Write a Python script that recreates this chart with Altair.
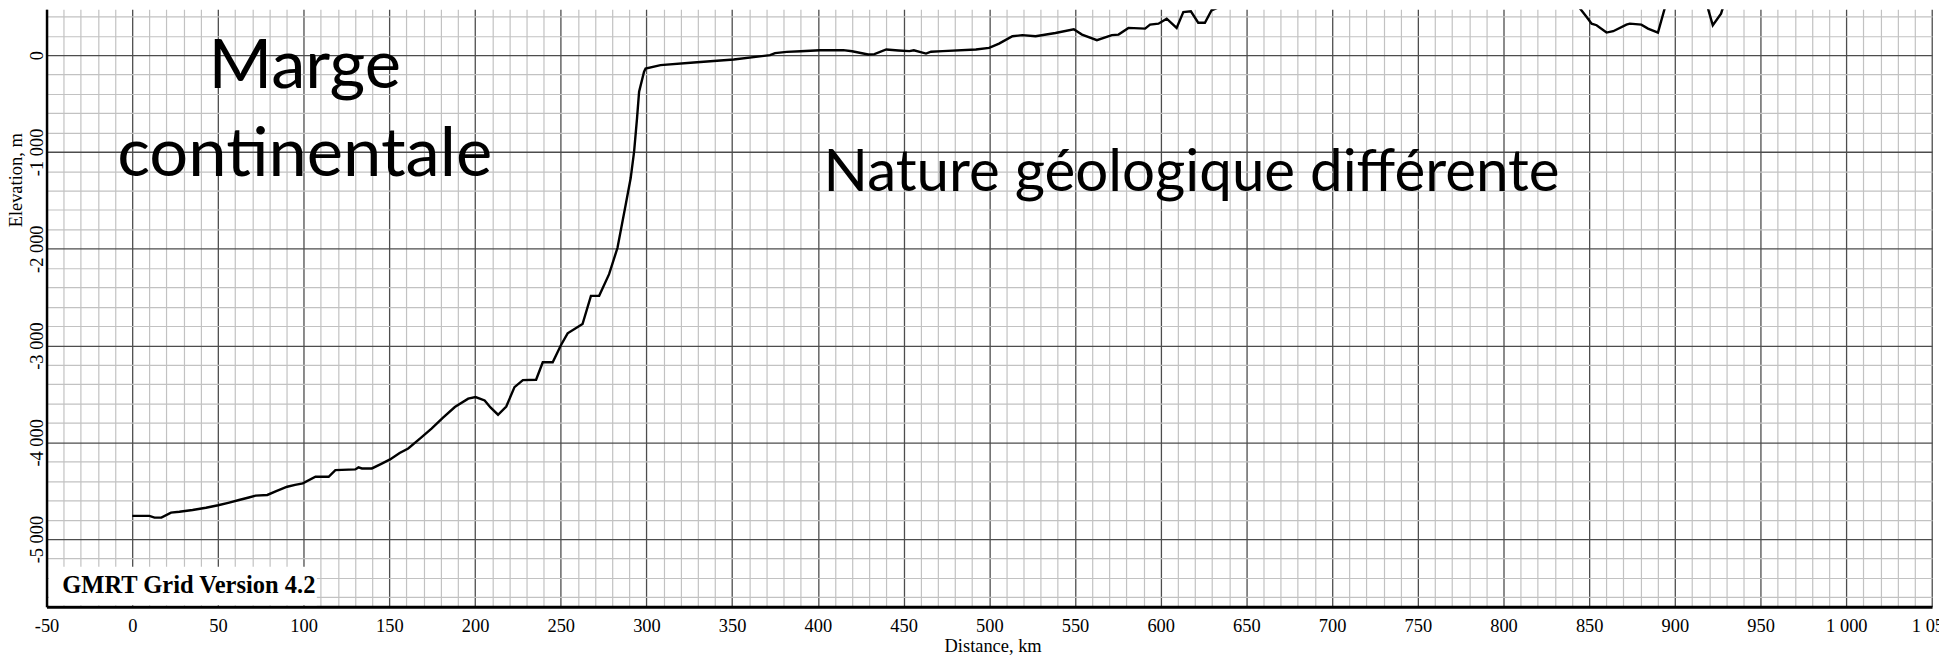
import altair as alt
import pandas as pd

# ---- profile data (distance km, elevation m) ----
distance_km = [0, 10, 13, 17, 22.6, 27.5, 35.2, 43, 50.1, 56, 62.3, 68, 72, 78.8, 84, 90.4, 95, 99.5,
               106.9, 114.6, 118.5, 130.1, 132, 134, 139.8, 145, 150.4, 156, 161, 168, 174.6, 181,
               188.2, 196, 200.3, 205.6, 209, 213.4, 218.2, 223, 227.9, 235.6, 239.5, 245.3, 250,
               254, 262.7, 267.6, 272.4, 278.2, 283.1, 287.9, 290.8, 292.8, 294.5, 295.7, 298.6,
               299.5, 308.2, 327.6, 350.9, 372.1, 375, 381.8, 390, 401.2, 414.8, 420, 429.3, 433,
               439.9, 447, 453.4, 456, 463.1, 466, 472.8, 492.2, 499.9, 505.7, 513.5, 519.3, 527,
               538.6, 549.3, 554.1, 562.8, 571.5, 575.4, 581.2, 590.9, 593.8, 598.7, 603.5, 609.3,
               613.2, 617.6, 621.9, 625.8, 629.7, 635.5, 641.3, 648, 655, 670, 700, 750, 800, 830,
               841.7, 848.5, 851.4, 854.3, 860.1, 864, 871.7, 873.7, 880.4, 884.3, 890.1, 894, 897,
               905, 915, 918.2, 922.1, 926.9, 930, 945, 980, 1020, 1050]
elevation_m = [-4760, -4760, -4778, -4778, -4726, -4718, -4699, -4676, -4650, -4625, -4596, -4570,
               -4551, -4544, -4505, -4459, -4440, -4424, -4356, -4356, -4287, -4280, -4259, -4270,
               -4270, -4225, -4177, -4110, -4064, -3960, -3858, -3750, -3636, -3549, -3533, -3567,
               -3640, -3715, -3630, -3430, -3358, -3354, -3173, -3173, -3000, -2874, -2778, -2487,
               -2487, -2263, -1990, -1543, -1270, -995, -650, -378, -172, -138, -103, -76, -45, 0,
               20, 34, 40, 51, 51, 40, 6, 10, 58, 48, 41, 50, 16, 35, 41, 58, 75, 119, 195, 206,
               195, 229, 267, 212, 154, 206, 212, 281, 274, 315, 325, 377, 281, 445, 453, 335, 335,
               463, 507, 538, 531, 620, 760, 900, 1250, 1100, 800, 548, 394, 325, 309, 233, 247,
               315, 325, 315, 274, 233, 480, 700, 900, 700, 548, 309, 428, 600, 900, 1100, 1200,
               1150]

# ---- axes ----
x_domain = [-50, 1050]
y_domain = [-5700, 473]
x_grid_values = list(range(-50, 1051, 10))      # minor every 10 km, labelled every 50
y_grid_values = list(range(-5600, 401, 200))    # minor every 200 m, labelled every 1000
x_title = "Distance, km"
y_title = "Elevation, m"

# ---- annotations ----
marge_lines = ["Marge", "continentale"]
marge_km = [100.6, 100.6]
marge_elev = [-336, -1252]
nature_text = ["Nature géologique différente"]
nature_km = [618]
nature_elev = [-1399]
gmrt_text = ["GMRT Grid Version 4.2"]
gmrt_km = [-40.8]
gmrt_elev = [-5556]
gmrt_box_km = [-48.6, 107.7]
gmrt_box_elev = [-5684, -5285]

serif = "Liberation Serif"
sans = "Lato"

profile = pd.DataFrame({"km": distance_km, "elev": elevation_m})

MINUS = "\u2212"
def lab_expr(step):
    return (f"datum.value % {step} === 0 ? "
            f"replace(replace(format(datum.value, ','), ',', ' '), '{MINUS}', '-') : ''")

x_scale = alt.Scale(domain=x_domain, nice=False, zero=False)
y_scale = alt.Scale(domain=y_domain, nice=False, zero=False)

x_axis = alt.Axis(
    values=x_grid_values, tickCount=500, grid=True,
    gridColor={"condition": {"test": "datum.value % 50 === 0", "value": "#4d4d4d"}, "value": "#c2c2c2"},
    gridWidth={"condition": {"test": "datum.value % 50 === 0", "value": 1.3}, "value": 1.2},
    ticks=False, tickSize=0,
    domain=True, domainColor="black", domainWidth=3,
    labelExpr=lab_expr(50), labelFont=serif, labelFontSize=18.5, labelColor="black",
    labelPadding=25, labelBaseline="alphabetic", labelAlign="center",
    labelFlush=False, labelOverlap=False,
    title=x_title, titleFont=serif, titleFontSize=18.5, titleFontWeight="normal",
    titleColor="black", titleX=950, titleY=45, titleBaseline="alphabetic", titleAlign="center",
)
y_axis = alt.Axis(
    values=y_grid_values, tickCount=500, grid=True,
    gridColor={"condition": {"test": "datum.value % 1000 === 0", "value": "#4d4d4d"}, "value": "#c2c2c2"},
    gridWidth={"condition": {"test": "datum.value % 1000 === 0", "value": 1.3}, "value": 1.2},
    ticks=False, tickSize=0,
    domain=True, domainColor="black", domainWidth=2.5,
    labelExpr=lab_expr(1000), labelFont=serif, labelFontSize=18.5, labelColor="black",
    labelAngle=270, labelAlign="center", labelBaseline="alphabetic", labelPadding=4,
    labelFlush=False, labelOverlap=False,
    title=y_title, titleFont=serif, titleFontSize=18.5, titleFontWeight="normal",
    titleColor="black", titleAngle=270, titleX=-25.5, titleY=171.2,
    titleBaseline="alphabetic", titleAlign="center",
)

line = alt.Chart(profile).mark_line(color="black", strokeWidth=2.4, clip=True).encode(
    x=alt.X("km:Q", scale=x_scale, axis=x_axis),
    y=alt.Y("elev:Q", scale=y_scale, axis=y_axis),
)

box = alt.Chart(pd.DataFrame({"x1": [gmrt_box_km[0]], "x2": [gmrt_box_km[1]],
                              "y1": [gmrt_box_elev[0]], "y2": [gmrt_box_elev[1]]})).mark_rect(
    color="white").encode(
    x=alt.X("x1:Q", scale=x_scale), x2="x2:Q",
    y=alt.Y("y1:Q", scale=y_scale), y2="y2:Q",
)

marge = alt.Chart(pd.DataFrame({"km": marge_km, "elev": marge_elev, "t": marge_lines})).mark_text(
    font=sans, fontSize=69, color="black", align="center", baseline="alphabetic").encode(
    x=alt.X("km:Q", scale=x_scale), y=alt.Y("elev:Q", scale=y_scale), text="t:N")

nature = alt.Chart(pd.DataFrame({"km": nature_km, "elev": nature_elev, "t": nature_text})).mark_text(
    font=sans, fontSize=58.5, color="black", align="center", baseline="alphabetic").encode(
    x=alt.X("km:Q", scale=x_scale), y=alt.Y("elev:Q", scale=y_scale), text="t:N")

gmrt = alt.Chart(pd.DataFrame({"km": gmrt_km, "elev": gmrt_elev, "t": gmrt_text})).mark_text(
    font=serif, fontSize=24.6, fontWeight="bold", color="black", align="left",
    baseline="alphabetic").encode(
    x=alt.X("km:Q", scale=x_scale), y=alt.Y("elev:Q", scale=y_scale), text="t:N")

chart = alt.layer(box, line, marge, nature, gmrt).properties(
    width=1893.3, height=600,
    autosize=alt.AutoSizeParams(type="none"),
    padding={"left": 38.7, "top": 0, "right": 7, "bottom": 48},
    background="white",
).configure_view(stroke=None)

chart.save("out.html", embed_options={"renderer": "svg", "actions": False})
